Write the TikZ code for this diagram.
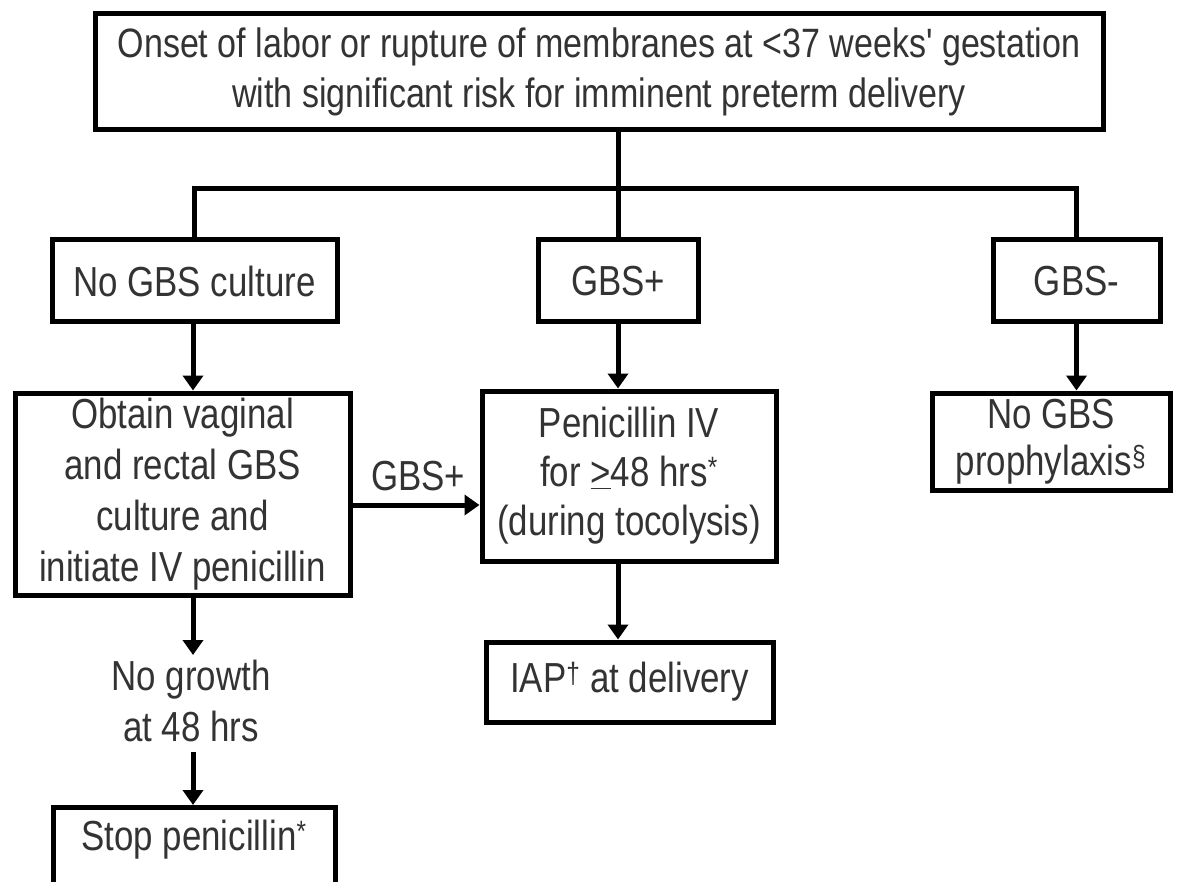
\documentclass[tikz,border=0pt]{standalone}
\usepackage{fontspec}
\setmainfont{Liberation Sans}[FakeStretch=0.83,Ligatures=TeXOff]
\usetikzlibrary{arrows.meta}
\begin{document}
\begin{tikzpicture}[x=1pt,y=-1pt,
  box/.style={draw=black,line width=5pt,fill=white,inner sep=0pt,align=center,
    text=black!80,font=\fontsize{42}{51}\selectfont},
  lbl/.style={inner sep=0pt,align=center,text=black!80,font=\fontsize{42}{51}\selectfont},
  conn/.style={line width=5pt},
  arr/.style={line width=5pt,-{Triangle[width=20pt,length=15pt]}}]
\useasboundingbox[fill=white] (0,0) rectangle (1201,882);
% boxes
\node[box,minimum width=1008pt,minimum height=116pt,font=\fontsize{41}{50}\selectfont] (top) at (599,72)
  {Onset of labor or rupture of membranes at <37 weeks' gestation\\with significant risk for imminent preterm delivery};
\node[box,minimum width=285pt,minimum height=82pt] (nocult) at (194.5,281) {No GBS culture};
\node[box,minimum width=160pt,minimum height=82pt] (gbsp) at (618,281) {GBS+};
\node[box,minimum width=167pt,minimum height=82pt] (gbsm) at (1076.5,281) {GBS-};
\node[box,minimum width=335pt,minimum height=202pt] (obtain) at (182.5,494)
  {Obtain vaginal\\and rectal GBS\\culture and\\initiate IV penicillin};
\node[box,minimum width=294pt,minimum height=170pt,font=\fontsize{42}{49}\selectfont] (pen) at (629,476)
  {Penicillin IV\\for \underline{>}48 hrs\textsuperscript{*}\\(during tocolysis)};
\node[box,minimum width=238pt,minimum height=97pt,font=\fontsize{42}{47}\selectfont] (prop) at (1051,441.5)
  {No GBS\\prophylaxis\textsuperscript{\S}};
\node[box,minimum width=287pt,minimum height=80pt] (iap) at (629.5,682)
  {IAP\textsuperscript{\dag} at delivery};
\node[lbl] (nogrowth) at (191,701) {No growth\\at 48 hrs};
\node[box,minimum width=282pt,minimum height=110pt,anchor=north] (stop) at (194,805) {};
\node[lbl] (stoptxt) at (194,840) {Stop penicillin\textsuperscript{*}};
\node[lbl,anchor=center] (gbslbl) at (418,476) {GBS+};
% connectors
\coordinate (mid) at (618,189);
\draw[conn] (top.south -| mid) -- (gbsp.north);
\draw[conn] (nocult.north) |- (mid) -| (gbsm.north);
\draw[arr] (nocult.south -| 193,0) -- (obtain.north -| 193,0);
\draw[arr] (gbsp.south) -- (gbsp.south |- pen.north);
\draw[arr] (gbsm.south) -- (gbsm.south |- prop.north);
\draw[arr] (obtain.east |- 0,505) -- (pen.west |- 0,505);
\draw[arr] (pen.south -| 618,0) -- (iap.north -| 618,0);
\draw[arr] (obtain.south -| 193,0) -- (193,655);
\draw[arr] (193,752) -- (stop.north -| 193,0);
\end{tikzpicture}
\end{document}
